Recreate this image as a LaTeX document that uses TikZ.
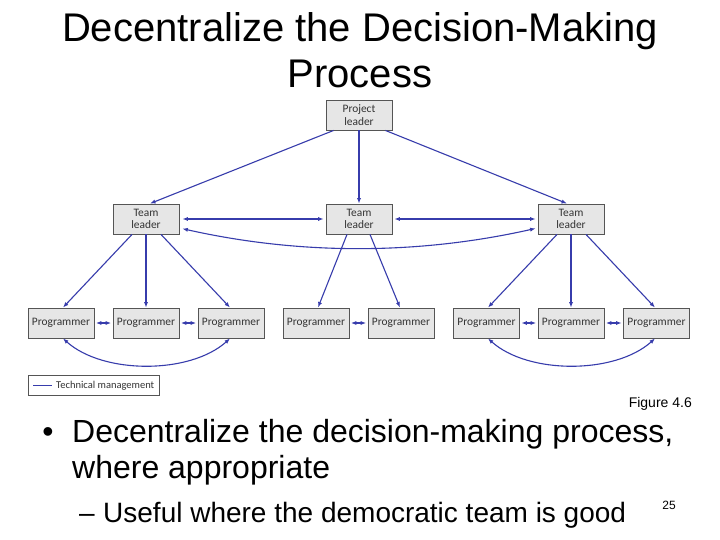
\documentclass[tikz,border=0pt]{standalone}
\usepackage{fontspec}
\setmainfont{Liberation Sans}
\newfontfamily\boxfont{Carlito}
\usetikzlibrary{arrows.meta,calc}
\definecolor{linkblue}{RGB}{55,60,172}
\definecolor{boxfill}{RGB}{230,230,230}
\definecolor{boxline}{RGB}{85,85,85}
\begin{document}
\begin{tikzpicture}[x=1pt,y=-1pt,
  box/.style={draw=boxline,fill=boxfill,line width=0.9pt,minimum width=66pt,minimum height=30pt,inner sep=0pt,align=center,font=\boxfont\fontsize{11.4}{12.3}\selectfont,text=black!80},
  link/.style={draw=linkblue,line width=1.1pt,-{Latex[length=5.5pt,width=4.2pt]}},
  bilink/.style={draw=linkblue,line width=1.1pt,{Latex[length=5.5pt,width=4.2pt]}-{Latex[length=5.5pt,width=4.2pt]}},
  txt/.style={inner sep=0pt,anchor=base}]
\useasboundingbox[fill=white] (0,0) rectangle (720,540);

% title
\node[txt,font=\fontsize{40}{46}\selectfont] (title1) at (360,42) {Decentralize the Decision-Making};
\node[txt,font=\fontsize{40}{46}\selectfont] (title2) at (360,88) {Process};

% boxes
\node[box] (PL) at (359,115) {Project\\leader};
\node[box] (TL1) at (146,219) {Team\\leader};
\node[box] (TL2) at (359,219) {Team\\leader};
\node[box] (TL3) at (571,219) {Team\\leader};
\node[box] (P1) at (61,323) {Programmer};
\node[box] (P2) at (146,323) {Programmer};
\node[box] (P3) at (231,323) {Programmer};
\node[box] (P4) at (316,323) {Programmer};
\node[box] (P5) at (401,323) {Programmer};
\node[box] (P6) at (486.5,323) {Programmer};
\node[box] (P7) at (571,323) {Programmer};
\node[box] (P8) at (656.5,323) {Programmer};

% project leader to team leaders
\draw[link] ($(PL.south west)+(8,0)$) -- ($(TL1.north)+(4,0)$);
\draw[link] (PL.south) -- (TL2.north);
\draw[link] ($(PL.south east)+(-7,0)$) -- ($(TL3.north)+(-4,0)$);

% team leader links
\draw[bilink,shorten <=3pt,shorten >=2pt] (TL1.east) -- (TL2.west);
\draw[bilink,shorten <=2pt,shorten >=2pt] (TL2.east) -- (TL3.west);
\draw[bilink,shorten <=3pt,shorten >=2pt] ($(TL1.east)+(0,9)$) .. controls +(120,27) and +(-120,27) .. ($(TL3.west)+(0,9)$);

% team leaders to programmers
\draw[link] ($(TL1.south)+(-14,0)$) -- ($(P1.north)+(2,0)$);
\draw[link] (TL1.south) -- (P2.north);
\draw[link] ($(TL1.south)+(15,0)$) -- ($(P3.north)+(-1,0)$);
\draw[link] ($(TL2.south)+(-12,0)$) -- ($(P4.north)+(2,0)$);
\draw[link] ($(TL2.south)+(11,0)$) -- ($(P5.north)+(-1,0)$);
\draw[link] ($(TL3.south)+(-14,0)$) -- ($(P6.north)+(1.5,0)$);
\draw[link] (TL3.south) -- (P7.north);
\draw[link] ($(TL3.south)+(15,0)$) -- ($(P8.north)+(-1.5,0)$);

% programmer links
\draw[bilink,shorten <=1.5pt,shorten >=1.5pt] (P1.east) -- (P2.west);
\draw[bilink,shorten <=1.5pt,shorten >=1.5pt] (P2.east) -- (P3.west);
\draw[bilink,shorten <=1.5pt,shorten >=1.5pt] (P4.east) -- (P5.west);
\draw[bilink,shorten <=1.5pt,shorten >=1.5pt] (P6.east) -- (P7.west);
\draw[bilink,shorten <=1.5pt,shorten >=1.5pt] (P7.east) -- (P8.west);
\draw[bilink] ($(P1.south)+(2,0)$) .. controls +(40,36) and +(-40,36) .. ($(P3.south)+(-1,0)$);
\draw[bilink] ($(P6.south)+(1.5,0)$) .. controls +(40,36) and +(-40,36) .. ($(P8.south)+(-1.5,0)$);

% legend
\node[draw=boxline,line width=0.7pt,fill=white,minimum width=131pt,minimum height=20pt,inner sep=0pt,anchor=north west] (legend) at (28,375) {};
\coordinate (legA) at ($(legend.west)+(5,0)$);
\coordinate (legB) at ($(legend.west)+(24,0)$);
\draw[draw=linkblue,line width=1.1pt] (legA) -- (legB);
\node[anchor=west,inner sep=0pt,font=\boxfont\fontsize{10.5}{12}\selectfont,text=black!80] (legtext) at ($(legend.west)+(28,0)$) {Technical management};

% figure label and page number
\node[inner sep=0pt,anchor=base east,font=\fontsize{14}{16}\selectfont] (fig) at (692,407) {Figure 4.6};
\node[inner sep=0pt,anchor=base east,font=\fontsize{12}{14}\selectfont] (page) at (676,509) {25};

% bullets
\node[txt,font=\fontsize{32}{37}\selectfont] (bullet) at (48,442) {•};
\node[inner sep=0pt,anchor=base west,font=\fontsize{32}{37}\selectfont] (b1) at (72,442) {Decentralize the decision-making process,};
\node[inner sep=0pt,anchor=base west,font=\fontsize{32}{37}\selectfont] (b2) at (72,478) {where appropriate};
\node[inner sep=0pt,anchor=base west,font=\fontsize{28}{32}\selectfont] (dash) at (79,522) {–};
\node[inner sep=0pt,anchor=base west,font=\fontsize{28}{32}\selectfont] (b3) at (103,522) {Useful where the democratic team is good};
\end{tikzpicture}
\end{document}
